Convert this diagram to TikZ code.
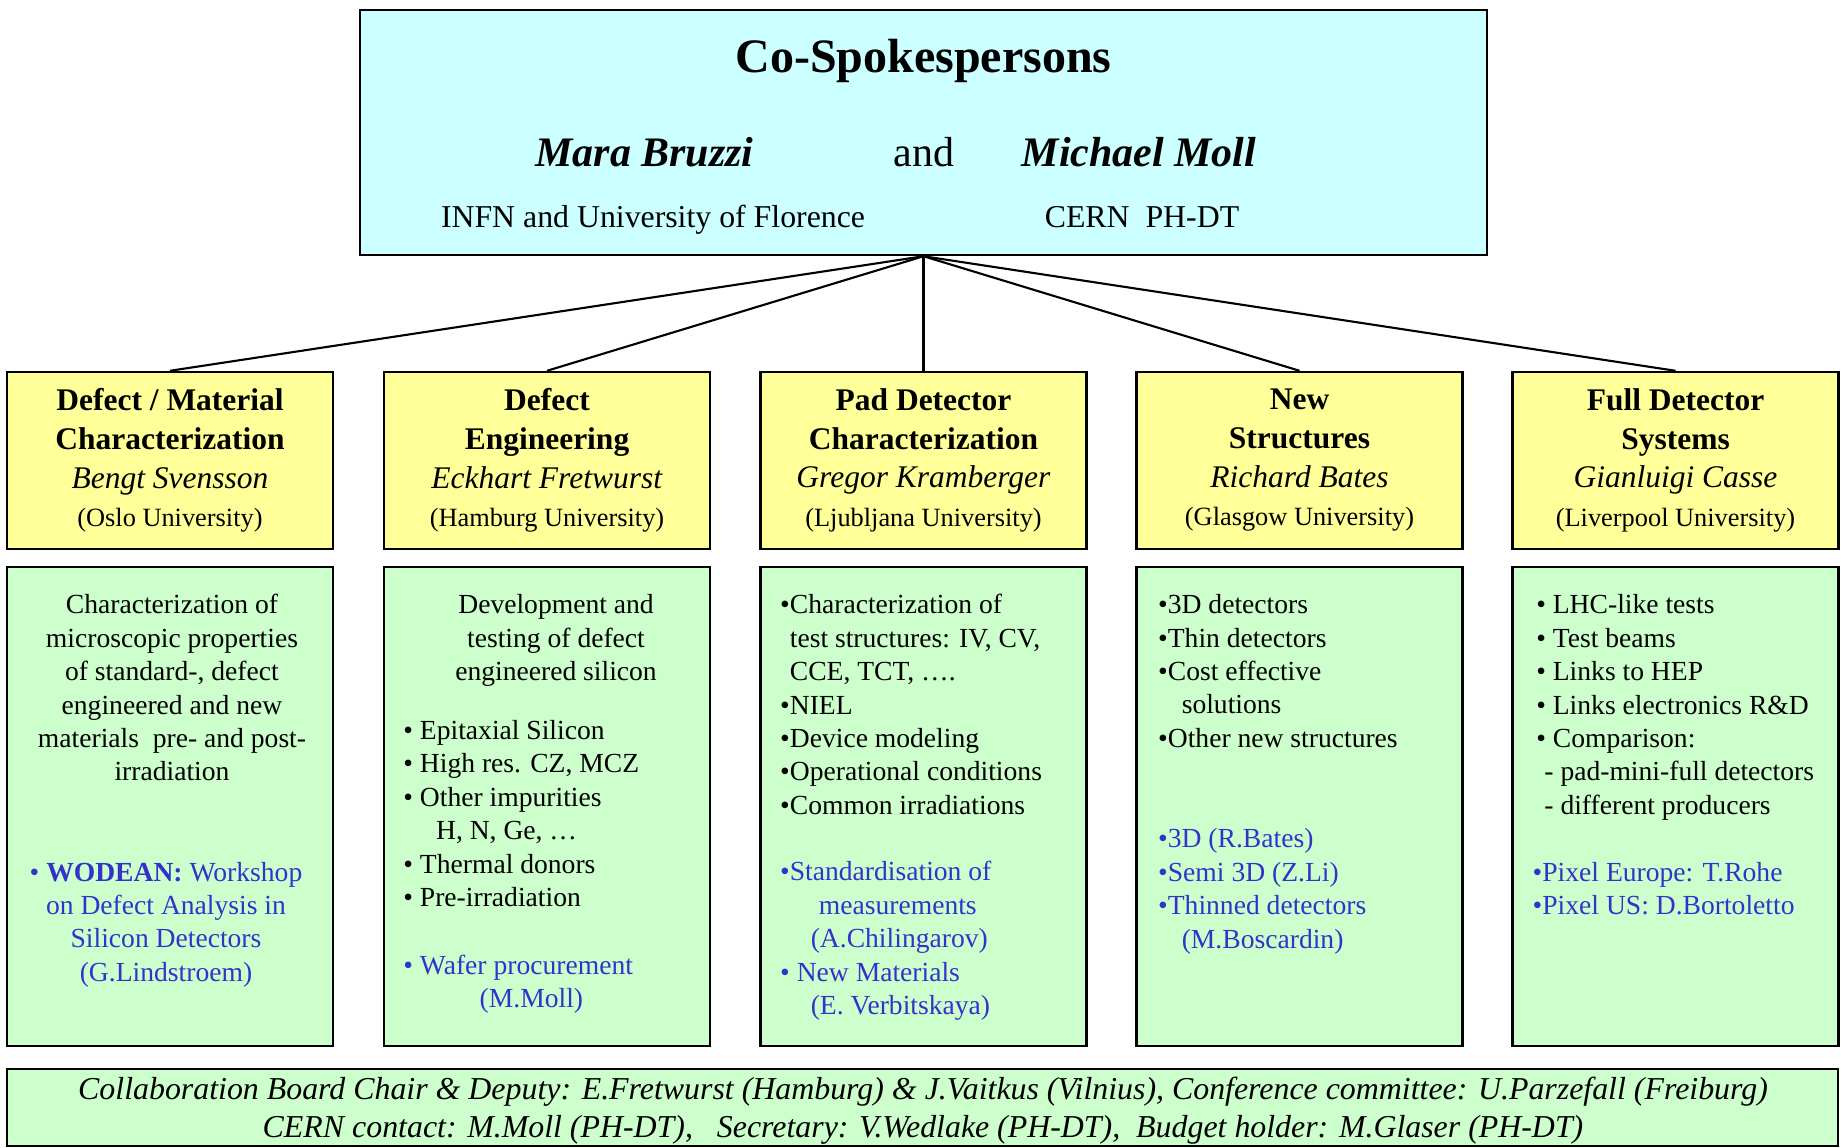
\documentclass[tikz,border=0pt]{standalone}
\usepackage{fontspec}
\setmainfont{Liberation Serif}
\definecolor{topcyan}{RGB}{204,255,255}
\definecolor{wgyellow}{RGB}{255,255,153}
\definecolor{taskgreen}{RGB}{204,255,204}
\definecolor{linkblue}{RGB}{51,51,204}
\newcommand{\bodyfont}{\fontsize{7.85pt}{9.52pt}\selectfont}
\newcommand{\unifont}{\fontsize{7.5pt}{9pt}\selectfont}

\begin{document}
\begin{tikzpicture}
    	[x=0.1mm, y=-0.1mm,
    	 topbox/.style={draw, line width=0.7pt, fill=topcyan, minimum width=112.7mm, minimum height=24.5mm, inner sep=0pt},
    	 wgbox/.style={draw, line width=0.7pt, fill=wgyellow, minimum width=32.6mm, minimum height=17.7mm, inner sep=0pt, align=center, font=\fontsize{8.96pt}{11pt}\selectfont},
    	 taskbox/.style={draw, line width=0.7pt, fill=taskgreen, minimum width=32.6mm, minimum height=47.9mm, inner sep=0pt},
    	 tasktext/.style={inner sep=0pt, font=\bodyfont},
    	 link/.style={line width=0.6pt}]
    	\useasboundingbox (0,0) rectangle (1841,1147);

    	% spokespersons
    	\node at (923.5,132.5) [topbox] (spokes) {};
    	\node at (923.5,72.8) [anchor=base, inner sep=0pt, font=\fontsize{13.66pt}{16pt}\selectfont\bfseries] (title) {Co-Spokespersons};
    	\node at (644.5,166.7) [anchor=base, inner sep=0pt, font=\fontsize{11.95pt}{14pt}\selectfont\bfseries\itshape] (bruzzi) {Mara Bruzzi};
    	\node at (924,166.7) [anchor=base, inner sep=0pt, font=\fontsize{11.95pt}{14pt}\selectfont] (and) {and};
    	\node at (1139,166.7) [anchor=base, inner sep=0pt, font=\fontsize{11.95pt}{14pt}\selectfont\bfseries\itshape] (moll) {Michael Moll};
    	\node at (653,227.8) [anchor=base, inner sep=0pt, font=\fontsize{9.05pt}{11pt}\selectfont] (florence) {INFN and University of Florence};
    	\node at (1142,227.8) [anchor=base, inner sep=0pt, font=\fontsize{9.05pt}{11pt}\selectfont] (cern) {CERN\ \ PH-DT};

    	% working groups
    	\node at (170,460.5) [wgbox] (wg1) {\textbf{Defect / Material}\\ \textbf{Characterization}\\ \textit{Bengt Svensson}\\ {\unifont (Oslo University)}};
    	\node at (547,460.5) [wgbox] (wg2) {\textbf{Defect}\\ \textbf{Engineering}\\ \textit{Eckhart Fretwurst}\\ {\unifont (Hamburg University)}};
    	\node at (923.5,460.5) [wgbox] (wg3) {\textbf{Pad Detector}\\ \textbf{Characterization}\\ \textit{Gregor Kramberger}\\ {\unifont (Ljubljana University)}};
    	\node at (1299.5,460.5) [wgbox] (wg4) {\textbf{New}\\ \textbf{Structures}\\ \textit{Richard Bates}\\ {\unifont (Glasgow University)}};
    	\node at (1675.5,460.5) [wgbox] (wg5) {\textbf{Full Detector}\\ \textbf{Systems}\\ \textit{Gianluigi Casse}\\ {\unifont (Liverpool University)}};

    	\draw [link] (spokes.south) -- (wg1.north);
    	\draw [link] (spokes.south) -- (wg2.north);
    	\draw [link] (spokes.south) -- (wg3.north);
    	\draw [link] (spokes.south) -- (wg4.north);
    	\draw [link] (spokes.south) -- (wg5.north);

    	% tasks (text nodes sit on the baseline of their last line)
    	\node at (170,806.5) [taskbox] (task1) {};
    	\node at (547,806.5) [taskbox] (task2) {};
    	\node at (923.5,806.5) [taskbox] (task3) {};
    	\node at (1299.5,806.5) [taskbox] (task4) {};
    	\node at (1675.5,806.5) [taskbox] (task5) {};

    	\node at (172,780.9) [tasktext, anchor=base, align=center] (t1) {Characterization of\\ microscopic properties\\ of standard-, defect\\ engineered and new\\ materials\ \ pre- and post-\\ irradiation};
    	\node at (166,981.4) [tasktext, anchor=base, align=center, text=linkblue] (t1b) {\textbullet\ \textbf{WODEAN:} Workshop\\ on Defect Analysis in\\ Silicon Detectors\\ (G.Lindstroem)};

    	\node at (556,680.5) [tasktext, anchor=base, align=center] (t2) {Development and\\ testing of defect\\ engineered silicon};
    	\node at (402.7,906.6) [tasktext, anchor=base west, align=left] (t2b) {\textbullet\ Epitaxial Silicon\\ \textbullet\ High res. CZ, MCZ\\ \textbullet\ Other impurities\\ \hspace*{9.3pt}H, N, Ge, \dots\\ \textbullet\ Thermal donors\\ \textbullet\ Pre-irradiation};
    	\node at (402.7,1007.5) [tasktext, anchor=base west, align=left, text=linkblue] (t2c) {\textbullet\ Wafer procurement\\ \hspace*{21.7pt}(M.Moll)};

    	\node at (779.5,814.4) [tasktext, anchor=base west, align=left] (t3) {\textbullet Characterization of\\ \phantom{\textbullet}test structures: IV, CV,\\ \phantom{\textbullet}CCE, TCT, \dots.\\ \textbullet NIEL\\ \textbullet Device modeling\\ \textbullet Operational conditions\\ \textbullet Common irradiations};
    	\node at (779.5,1014.8) [tasktext, anchor=base west, align=left, text=linkblue] (t3b) {\textbullet Standardisation of\\ \hspace*{11pt}measurements\\ \hspace*{8.7pt}(A.Chilingarov)\\ \textbullet\ New Materials\\ \hspace*{8.7pt}(E. Verbitskaya)};

    	\node at (1157.5,747.4) [tasktext, anchor=base west, align=left] (t4) {\textbullet 3D detectors\\ \textbullet Thin detectors\\ \textbullet Cost effective\\ \hspace*{6.7pt}solutions\\ \textbullet Other new structures};
    	\node at (1157.5,948.2) [tasktext, anchor=base west, align=left, text=linkblue] (t4b) {\textbullet 3D (R.Bates)\\ \textbullet Semi 3D (Z.Li)\\ \textbullet Thinned detectors\\ \hspace*{6.7pt}(M.Boscardin)};

    	\node at (1535.6,814.4) [tasktext, anchor=base west, align=left] (t5) {\textbullet\ LHC-like tests\\ \textbullet\ Test beams\\ \textbullet\ Links to HEP\\ \textbullet\ Links electronics R\&D\\ \textbullet\ Comparison:\\ \hspace*{2.3pt}- pad-mini-full detectors\\ \hspace*{2.3pt}- different producers};
    	\node at (1532,914.5) [tasktext, anchor=base west, align=left, text=linkblue] (t5b) {\textbullet Pixel Europe: T.Rohe\\ \textbullet Pixel US: D.Bortoletto};

    	% collaboration board
    	\node at (922.5,1107.5) [draw, line width=0.7pt, fill=taskgreen, minimum width=183.1mm, minimum height=7.7mm, inner sep=0pt] (board) {};
    	\node at (923,1099) [anchor=base, inner sep=0pt, font=\fontsize{9.07pt}{11pt}\selectfont\itshape] (chair) {Collaboration Board Chair \& Deputy: E.Fretwurst (Hamburg) \& J.Vaitkus (Vilnius), Conference committee: U.Parzefall (Freiburg)};
    	\node at (923,1137.6) [anchor=base, inner sep=0pt, font=\fontsize{9.07pt}{11pt}\selectfont\itshape] (contact) {CERN contact: M.Moll (PH-DT),\ \ \ Secretary: V.Wedlake (PH-DT),\ \ Budget holder: M.Glaser (PH-DT)};
\end{tikzpicture}
\end{document}
